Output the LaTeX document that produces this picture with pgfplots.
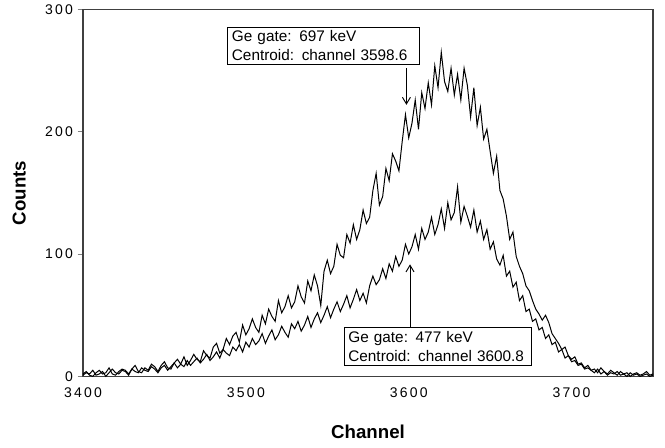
\documentclass[border=0pt]{standalone}
\usepackage{pgfplots}
\pgfplotsset{compat=1.18}
\usetikzlibrary{arrows.meta}
\usepackage{fontspec}
\setmainfont{Liberation Sans}
\newfontfamily\tickfont[LetterSpace=16]{Liberation Sans}

% spectrum gated on 697 keV (upper) and 477 keV (lower)
\pgfplotstableread{
ch   c697 c477
3400 2   1
3402 4   3
3404 1   2
3406 0   5
3408 3   1
3410 5   2
3412 2   4
3414 3   0
3416 7   3
3418 2   6
3420 1   3
3422 4   2
3424 6   5
3426 5   4
3428 2   1
3430 6   6
3432 9   4
3434 4   3
3436 3   7
3438 7   5
3440 5   4
3442 10  8
3444 8   6
3446 4   3
3448 9   7
3450 12  9
3452 7   5
3454 6   8
3456 11  11
3458 14  7
3460 10  10
3462 16  8
3464 9   13
3466 13  9
3468 18  12
3470 14  15
3472 12  11
3474 21  14
3476 17  18
3478 15  13
3480 24  16
3482 27  20
3484 19  15
3486 22  22
3488 31  19
3490 26  17
3492 33  24
3494 36  21
3496 28  26
3498 42  20
3500 34  28
3502 39  24
3504 47  31
3506 40  26
3508 36  29
3510 50  35
3512 43  27
3514 55  33
3516 49  38
3518 45  30
3520 62  34
3522 52  41
3524 57  36
3526 66  32
3528 56  43
3530 61  39
3532 74  45
3534 65  37
3536 60  42
3538 78  49
3540 70  40
3542 83  47
3544 74  52
3546 58  44
3548 86  50
3550 95  57
3552 84  48
3554 90  55
3556 108 61
3558 99  53
3560 97  59
3562 116 66
3564 109 56
3566 124 63
3568 112 71
3570 120 62
3572 136 68
3574 125 60
3576 130 74
3578 152 82
3580 166 75
3582 140 79
3584 147 88
3586 170 80
3588 160 92
3590 182 86
3592 176 98
3594 168 90
3596 192 95
3598 214 108
3600 195 100
3602 207 106
3604 226 116
3606 202 104
3608 232 121
3610 219 112
3612 240 118
3614 222 130
3616 254 116
3618 236 124
3620 265 137
3622 241 121
3624 233 142
3626 252 128
3628 230 134
3630 247 155
3632 226 126
3634 252 139
3636 238 131
3638 212 122
3640 236 136
3642 205 118
3644 220 127
3646 194 112
3648 202 120
3650 184 104
3652 166 110
3654 180 96
3656 152 91
3658 145 99
3660 131 82
3662 112 86
3664 118 73
3666 98  77
3668 90  62
3670 84  66
3672 74  53
3674 70  55
3676 62  45
3678 55  47
3680 51  38
3682 46  40
3684 50  31
3686 44  34
3688 35  26
3690 31  28
3692 27  20
3694 22  22
3696 24  15
3698 17  17
3700 14  12
3702 16  13
3704 10  9
3706 11  10
3708 7   6
3710 9   7
3712 5   5
3714 6   3
3716 3   6
3718 7   2
3720 4   4
3722 2   1
3724 5   3
3726 3   2
3728 1   4
3730 4   1
3732 2   2
3734 3   0
3736 0   3
3738 2   1
3740 3   2
3742 1   0
3744 2   1
3746 4   2
3748 1   0
3750 2   1
}\spectrum

\begin{document}
\begin{tikzpicture}
  \begin{axis}[
      width=427.5pt, height=275.25pt,
      scale only axis,
      xmin=3400, xmax=3750,
      ymin=0, ymax=300,
      xtick={3400,3500,3600,3700},
      ytick={0,100,200,300},
      /pgf/number format/assume math mode=true,
      /pgf/number format/set thousands separator={},
      tick label style={font=\tickfont\fontsize{10.5}{12}\selectfont},
      xtick style={draw=none},
      ytick style={line width=0.8pt},
      ytick pos=left,
      tick align=outside,
      major tick length=4pt,
      xticklabel style={yshift=-1pt},
      axis line style={line width=1pt, black!75},
      xlabel={\textbf{Channel}},
      ylabel={\textbf{Counts}},
      label style={font=\fontsize{14}{16}\selectfont},
      xlabel style={at={(axis description cs:0.5,-0.15)}, anchor=center},
      ylabel style={at={(axis description cs:-0.112,0.5)}, anchor=center},
      clip=false,
    ]
    \addplot[black, line width=0.75pt] table[x=ch, y=c697] {\spectrum};
    \addplot[black, line width=0.75pt] table[x=ch, y=c477] {\spectrum};

    \node[draw=black, line width=0.7pt, fill=white, anchor=north west,
      align=left, text width=138pt, inner xsep=3pt, inner ysep=2.5pt,
      font=\fontsize{11.5}{14.5}\selectfont]
      at (axis cs:3488.7,286) {Ge gate: 697 keV\\Centroid: channel 3598.6};
    \draw[-{Straight Barb[length=5pt,width=6pt]}, line width=0.7pt]
      (axis cs:3598.6,252) -- (axis cs:3598.6,222);

    \node[draw=black, line width=0.7pt, fill=white, anchor=north west,
      align=left, text width=134pt, inner xsep=3pt, inner ysep=2.5pt,
      font=\fontsize{11.5}{14.5}\selectfont]
      at (axis cs:3560.2,40) {Ge gate: 477 keV\\Centroid: channel 3600.8};
    \draw[-{Straight Barb[length=5pt,width=6pt]}, line width=0.7pt]
      (axis cs:3600.8,40) -- (axis cs:3600.8,91.6);
  \end{axis}
  \path (current axis.south west) ++(-62.25pt,-53.25pt) coordinate (bl);
  \path (current axis.north east) ++(9pt,3.75pt) coordinate (tr);
  \path (bl) rectangle (tr);
\end{tikzpicture}
\end{document}
